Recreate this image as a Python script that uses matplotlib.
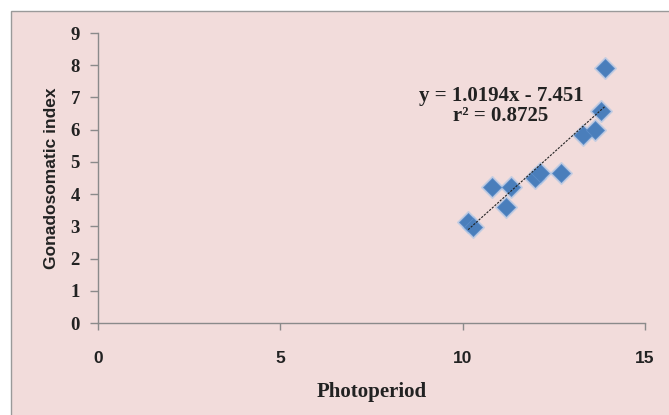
import numpy as np
import matplotlib.pyplot as plt
from matplotlib.patches import Rectangle

# photoperiod (hours) vs gonadosomatic index
photoperiod = [10.15, 10.27, 10.81, 11.32, 11.20, 11.97, 12.13, 12.70,
               13.30, 13.62, 13.78, 13.90]
gsi = [3.12, 2.99, 4.23, 4.21, 3.59, 4.49, 4.65, 4.67,
       5.84, 5.99, 6.58, 7.91]

slope_fit = 1.0194
intercept_fit = -7.451
r2_fit = 0.8725

x_ticks = [0, 5, 10, 15]
y_ticks = list(range(0, 10))

fig = plt.figure(figsize=(6.69, 4.15), dpi=100)
fig.patch.set_facecolor('white')

# chart area background with its frame
bg = Rectangle((11 / 669, -0.01), 1.0, 1 - 11 / 415 + 0.01, transform=fig.transFigure,
               facecolor='#f2dcdb', edgecolor='#9a9a9a', linewidth=1.0, zorder=-10)
fig.patches.append(bg)

ax = fig.add_axes([98 / 669, 1 - 323 / 415, (645 - 98) / 669, (323 - 33) / 415])
ax.set_facecolor('none')

# markers with a soft light halo
ax.plot(photoperiod, gsi, linestyle='none', marker='D', markersize=11.5,
        color='#a9c4e6', alpha=0.5, zorder=2)
ax.plot(photoperiod, gsi, linestyle='none', marker='D', markersize=9.5,
        color='#4a7ebb', markeredgecolor='#5b8cc8', markeredgewidth=0.6, zorder=3)

# linear trendline over the range of the data
xt = np.array([min(photoperiod), max(photoperiod)])
ax.plot(xt, slope_fit * xt + intercept_fit, color='#222222', lw=0.8,
        dashes=(2.0, 1.2), zorder=4)

ax.text(11.05, 6.72, 'y = %.4fx - %.3f\nr² = %.4f' % (slope_fit, -intercept_fit, r2_fit),
        ha='center', va='center', fontsize=15, fontweight='bold',
        family='Liberation Serif', color='#222222', linespacing=1.0, zorder=5)

ax.set_xlim(0, 15)
ax.set_ylim(0, 9)
ax.set_xticks(x_ticks)
ax.set_yticks(y_ticks)

for side in ['top', 'right']:
    ax.spines[side].set_visible(False)
for side in ['left', 'bottom']:
    ax.spines[side].set_color('#8a8a8a')
    ax.spines[side].set_linewidth(1.0)

ax.tick_params(axis='x', direction='out', length=5, width=1, color='#8a8a8a', pad=15)
ax.tick_params(axis='y', direction='out', length=6, width=1, color='#8a8a8a', pad=7)

for lab in ax.get_xticklabels():
    lab.set_family('Liberation Sans')
    lab.set_fontweight('bold')
    lab.set_fontsize(12.5)
    lab.set_color('#222222')
for lab in ax.get_yticklabels():
    lab.set_family('Liberation Serif')
    lab.set_fontweight('bold')
    lab.set_fontsize(13.5)
    lab.set_color('#222222')

ax.set_xlabel('Photoperiod', family='Liberation Serif', fontweight='bold',
              fontsize=15, color='#222222', labelpad=12)
ax.set_ylabel('Gonadosomatic index', family='Liberation Sans', fontweight='bold',
              fontsize=12.5, color='#222222', labelpad=8)

fig.savefig('out.png', dpi=100)
